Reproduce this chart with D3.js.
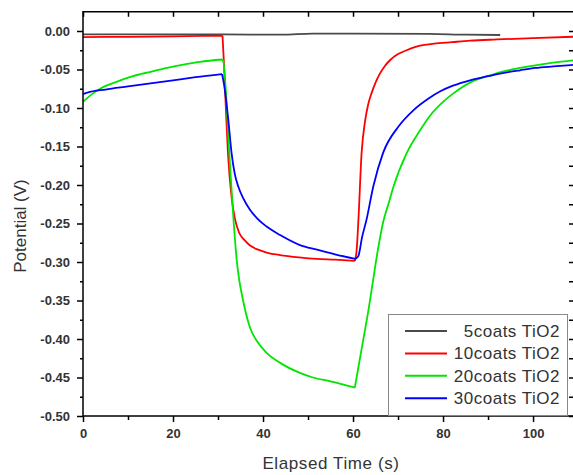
<!DOCTYPE html>
<html lang="en">
<head>
<meta charset="UTF-8">
<script src="https://d3js.org/d3.v7.min.js"></script>
<style>
  body { margin: 0; background: #fff; font-family: "Liberation Sans", Arial, sans-serif; }
  svg { display: block; }
  .tick text { font-weight: bold; font-size: 13px; fill: #333; }
  .tick line { stroke: #000; stroke-width: 1.5; }
</style>
</head>
<body>
<div id="chart"></div>
<script>
// series
const seriesNames = ["5coats TiO2", "10coats TiO2", "20coats TiO2", "30coats TiO2"];
const seriesColors = ["#4a4a4a", "#ff0000", "#00e600", "#0000ff"];

const time5 = [0, 10, 31, 44, 51, 60, 77, 85, 92.7];
const pot5 = [-0.0045, -0.0045, -0.0045, -0.0048, -0.0035, -0.0033, -0.0038, -0.0048, -0.0052];

const time10 = [0, 10, 20, 31.0, 31.3, 31.7, 32.2, 33.0, 33.8, 34.7, 35.8, 37.2, 38.9, 41, 43.8, 48, 52, 56, 60.4,
  60.8, 61.2, 61.9, 62.7, 63.3, 64.1, 65, 66, 67, 68.2, 70, 71.9, 74.9, 78, 82, 86, 92, 100, 109.1];
const pot10 = [-0.008, -0.0075, -0.007, -0.006, -0.04, -0.095, -0.158, -0.215, -0.245, -0.262, -0.271, -0.279, -0.284, -0.288, -0.291, -0.294, -0.296, -0.297, -0.2985,
  -0.285, -0.245, -0.159, -0.116, -0.097, -0.081, -0.067, -0.055, -0.046, -0.038, -0.030, -0.025, -0.019, -0.0165, -0.0145, -0.0126, -0.011, -0.0092, -0.0074];

const time20 = [0, 2, 3.8, 7, 11.1, 15, 18.7, 22, 26, 31.0, 31.2, 32.5, 33.5, 34.2, 34.7, 35.5, 37.1, 38.8, 40.8, 43.8, 48.2, 51.1, 55, 60.4,
  62, 63.5, 64.5, 65.5, 66.7, 68, 69, 71.9, 74.9, 77.1, 80, 82.3, 86, 89.7, 93, 97.1, 100.5, 104.5, 109.1];
const pot20 = [-0.092, -0.082, -0.075, -0.067, -0.0585, -0.053, -0.048, -0.044, -0.040, -0.037, -0.040, -0.158, -0.250, -0.300, -0.323, -0.348, -0.385, -0.404, -0.418, -0.431, -0.444, -0.450, -0.455, -0.463,
  -0.410, -0.360, -0.322, -0.285, -0.248, -0.222, -0.202, -0.159, -0.129, -0.110, -0.092, -0.081, -0.067, -0.059, -0.053, -0.048, -0.0445, -0.041, -0.038];

const time30 = [0, 1, 5, 10, 15, 20, 25, 30.9, 31.3, 32.3, 33.0, 33.7, 34.5, 35.5, 37.1, 38.8, 40.8, 43.8, 48.2, 52, 56, 60.5,
  61.2, 62, 63, 64.5, 66.7, 70.1, 73.4, 76.7, 79.5, 82.2, 86, 89.7, 93, 97.1, 100.5, 104.5, 109.1];
const pot30 = [-0.082, -0.080, -0.076, -0.072, -0.068, -0.064, -0.060, -0.056, -0.068, -0.116, -0.158, -0.185, -0.202, -0.216, -0.232, -0.244, -0.254, -0.265, -0.278, -0.284, -0.290, -0.296,
  -0.292, -0.268, -0.245, -0.202, -0.158, -0.124, -0.103, -0.088, -0.078, -0.071, -0.064, -0.059, -0.055, -0.051, -0.048, -0.046, -0.044];

// light on / light off instants where each curve has a corner
const cornerTimes = [[], [31.0, 60.4], [31.0, 60.4], [30.9, 60.5]];

const seriesTimes = [time5, time10, time20, time30];
const seriesPots = [pot5, pot10, pot20, pot30];

const xMajor = [0, 20, 40, 60, 80, 100];
const xMinor = [10, 30, 50, 70, 90];
const yMajor = [0, -0.05, -0.10, -0.15, -0.20, -0.25, -0.30, -0.35, -0.40, -0.45, -0.50];
const yMinor = [-0.025, -0.075, -0.125, -0.175, -0.225, -0.275, -0.325, -0.375, -0.425, -0.475];

const width = 573, height = 475;
const svg = d3.select("#chart").append("svg")
  .attr("width", width).attr("height", height);

const x = d3.scaleLinear().domain([0, 109.1]).range([83, 574]);
const y = d3.scaleLinear().domain([-0.5, 0.025]).range([416, 11.75]);

const fmt = d => (Math.abs(d) < 1e-9 ? 0 : d).toFixed(2);

// bottom axis
svg.append("g").attr("transform", "translate(0,416)")
  .call(d3.axisBottom(x).tickValues(xMajor).tickSize(6).tickPadding(7).tickFormat(d3.format("d")))
  .call(g => g.select(".domain").remove());
svg.append("g").attr("transform", "translate(0,416)")
  .call(d3.axisBottom(x).tickValues(xMinor).tickSize(4).tickFormat(""))
  .call(g => g.select(".domain").remove());
// top axis, inward ticks
svg.append("g").attr("transform", `translate(0,${y(0.025)})`)
  .call(d3.axisTop(x).tickValues(xMajor.concat(xMinor)).tickSize(-5).tickFormat(""))
  .call(g => g.select(".domain").remove());
// left axis
svg.append("g").attr("transform", "translate(83,0)")
  .call(d3.axisLeft(y).tickValues(yMajor).tickSize(6).tickPadding(7).tickFormat(fmt))
  .call(g => g.select(".domain").remove());
svg.append("g").attr("transform", "translate(83,0)")
  .call(d3.axisLeft(y).tickValues(yMinor).tickSize(3).tickFormat(""))
  .call(g => g.select(".domain").remove());
// right axis, inward ticks
svg.append("g").attr("transform", "translate(574,0)")
  .call(d3.axisRight(y).tickValues(yMajor.concat(yMinor)).tickSize(-5).tickFormat(""))
  .call(g => g.select(".domain").remove());

svg.append("defs").append("clipPath").attr("id", "plot")
  .append("rect").attr("x", 83).attr("y", y(0.025)).attr("width", 491).attr("height", 416 - y(0.025));

const line = d3.line().x(d => x(d[0])).y(d => y(d[1])).curve(d3.curveMonotoneX);

seriesNames.forEach((name, i) => {
  const pts = seriesTimes[i].map((t, j) => [t, seriesPots[i][j]]);
  // split at the corners so each piece is smooth but the corners stay sharp
  const pieces = [];
  let cur = [];
  pts.forEach(p => {
    cur.push(p);
    if (cornerTimes[i].includes(p[0])) { pieces.push(cur); cur = [p]; }
  });
  pieces.push(cur);
  svg.append("path")
    .attr("clip-path", "url(#plot)")
    .attr("d", pieces.map(line).join(""))
    .attr("fill", "none")
    .attr("stroke", seriesColors[i])
    .attr("stroke-width", 1.8)
    .attr("stroke-linejoin", "round");
});

// frame
svg.append("rect")
  .attr("x", 83).attr("y", y(0.025))
  .attr("width", 491).attr("height", 416 - y(0.025))
  .attr("fill", "none").attr("stroke", "#000").attr("stroke-width", 1.5);

// legend
const legend = svg.append("g");
legend.append("rect")
  .attr("x", 388.5).attr("y", 314.5).attr("width", 179).attr("height", 101)
  .attr("fill", "#fff").attr("stroke", "#888").attr("stroke-width", 1);
seriesNames.forEach((name, i) => {
  const ly = 331 + i * 22.4;
  legend.append("line")
    .attr("x1", 405).attr("x2", 447).attr("y1", ly).attr("y2", ly)
    .attr("stroke", seriesColors[i]).attr("stroke-width", 2);
  legend.append("text")
    .attr("x", 560).attr("y", ly).attr("dy", "0.35em")
    .attr("text-anchor", "end")
    .attr("font-size", 17).attr("letter-spacing", 0.5)
    .attr("fill", "#333")
    .text(name);
});

// axis titles
svg.append("text")
  .attr("x", 331).attr("y", 463).attr("dy", "0.35em")
  .attr("text-anchor", "middle").attr("font-size", 17).attr("letter-spacing", 0.6)
  .attr("fill", "#333").text("Elapsed Time (s)");
svg.append("text")
  .attr("transform", "translate(20,226) rotate(-90)").attr("dy", "0.35em")
  .attr("text-anchor", "middle").attr("font-size", 17)
  .attr("fill", "#333").text("Potential (V)");
</script>
</body>
</html>
